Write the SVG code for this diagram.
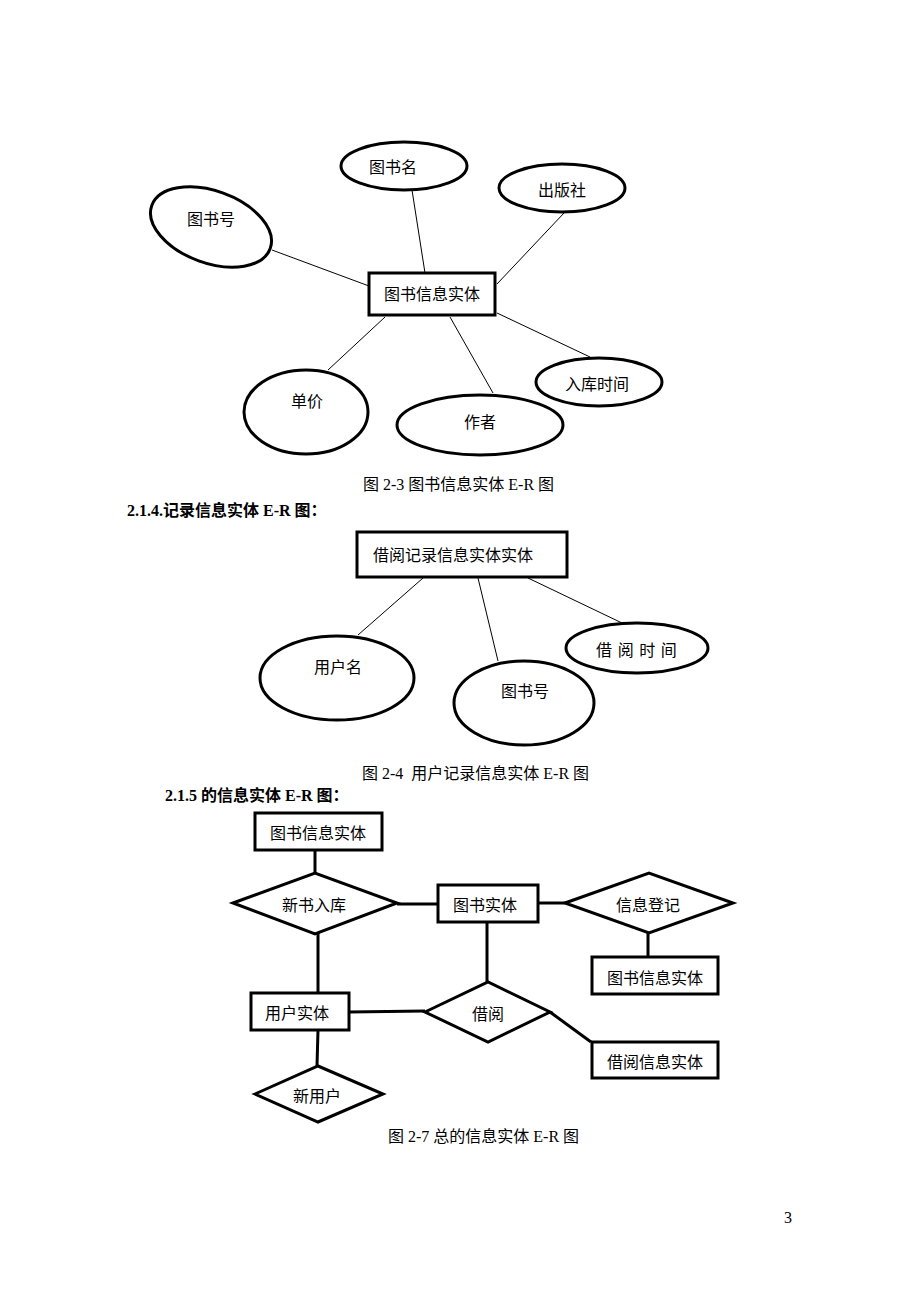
<svg xmlns="http://www.w3.org/2000/svg" width="920" height="1302" viewBox="0 0 920 1302">
<style>
.bg{fill:#fff}
.ell{fill:#fff;stroke:#000;stroke-width:3}
.box{fill:#fff;stroke:#000;stroke-width:3}
.thin{stroke:#000;stroke-width:1;fill:none}
.thick{stroke:#000;stroke-width:3;fill:none}
.lbl{font-family:"Noto Sans CJK SC","Liberation Sans",sans-serif;font-size:16px;fill:#000;text-anchor:middle;dominant-baseline:central}
.cap{font-family:"Liberation Serif","Noto Sans CJK SC",serif;font-size:16px;fill:#000;white-space:pre}
.head{font-family:"Liberation Serif","Noto Sans CJK SC",serif;font-size:16px;font-weight:bold;fill:#000}
</style>
<rect class="bg" x="0" y="0" width="920" height="1302"/>

<!-- Figure 2-3 -->
<g id="connectors-top">
<line class="thin" x1="272" y1="250" x2="369" y2="286"/>
<line class="thin" x1="412" y1="190" x2="425" y2="273"/>
<line class="thin" x1="564" y1="213" x2="497" y2="284"/>
<line class="thin" x1="385" y1="317" x2="328" y2="370"/>
<line class="thin" x1="450" y1="317" x2="493" y2="393"/>
<line class="thin" x1="497" y1="313" x2="590" y2="357"/>
</g>
<g id="n-tsh"><ellipse class="ell" cx="211" cy="227" rx="63" ry="36" transform="rotate(20 211 227)"/><text class="lbl" x="211" y="218">图书号</text></g>
<g id="n-tsm"><ellipse class="ell" cx="404" cy="166" rx="63" ry="24"/><text class="lbl" x="393" y="166">图书名</text></g>
<g id="n-cbs"><ellipse class="ell" cx="562" cy="188" rx="63" ry="24"/><text class="lbl" x="562" y="189">出版社</text></g>
<g id="n-tsxx"><rect class="box" x="369" y="273" width="126" height="42"/><text class="lbl" x="432" y="293">图书信息实体</text></g>
<g id="n-dj"><ellipse class="ell" cx="306" cy="412" rx="62" ry="42"/><text class="lbl" x="307" y="400">单价</text></g>
<g id="n-zz"><ellipse class="ell" cx="480" cy="425" rx="83" ry="30"/><text class="lbl" x="480" y="421">作者</text></g>
<g id="n-rksj"><ellipse class="ell" cx="599" cy="382" rx="63" ry="24"/><text class="lbl" x="597" y="383">入库时间</text></g>
<text class="cap" x="363" y="490">图 2-3 图书信息实体 E-R 图</text>
<text class="head" x="127" y="516">2.1.4.记录信息实体 E-R 图：</text>

<!-- Figure 2-4 -->
<g id="connectors-mid">
<line class="thin" x1="423" y1="578" x2="358" y2="635"/>
<line class="thin" x1="478" y1="578" x2="498" y2="661"/>
<line class="thin" x1="528" y1="578" x2="622" y2="623"/>
</g>
<g id="n-jyjl"><rect class="box" x="357" y="532" width="210" height="45"/><text class="lbl" x="453" y="554">借阅记录信息实体实体</text></g>
<g id="n-yhm"><ellipse class="ell" cx="337" cy="678" rx="77" ry="42"/><text class="lbl" x="338" y="666">用户名</text></g>
<g id="n-tsh2"><ellipse class="ell" cx="524" cy="703" rx="70" ry="42"/><text class="lbl" x="525" y="690">图书号</text></g>
<g id="n-jysj"><ellipse class="ell" cx="637" cy="648" rx="71" ry="25"/><text class="lbl" x="637" y="649" letter-spacing="1">借 阅 时 间</text></g>
<text class="cap" x="362" y="779">图 2-4  用户记录信息实体 E-R 图</text>
<text class="head" x="165" y="801">2.1.5 的信息实体 E-R 图：</text>

<!-- Figure 2-7 -->
<g id="connectors-bottom">
<line class="thick" x1="315" y1="850" x2="315" y2="873"/>
<line class="thick" x1="397" y1="904" x2="438" y2="904"/>
<line class="thick" x1="538" y1="903" x2="565" y2="903"/>
<line class="thick" x1="648" y1="933" x2="648" y2="957"/>
<line class="thick" x1="318" y1="933" x2="318" y2="993"/>
<line class="thick" x1="487" y1="922" x2="487" y2="982"/>
<line class="thick" x1="349" y1="1012" x2="425" y2="1011"/>
<line class="thick" x1="550" y1="1012" x2="591" y2="1042"/>
<line class="thick" x1="318" y1="1030" x2="317" y2="1066"/>
</g>
<g id="b-tsxx1"><rect class="box" x="255" y="813" width="127" height="37"/><text class="lbl" x="318" y="832">图书信息实体</text></g>
<g id="b-xsrk"><polygon class="box" points="233,903 315,873 397,903 315,934"/><text class="lbl" x="314" y="904">新书入库</text></g>
<g id="b-tssj"><rect class="box" x="438" y="885" width="100" height="37"/><text class="lbl" x="485" y="904">图书实体</text></g>
<g id="b-xxdj"><polygon class="box" points="565,903 649,873 733,903 649,933"/><text class="lbl" x="648" y="904">信息登记</text></g>
<g id="b-tsxx2"><rect class="box" x="592" y="957" width="126" height="37"/><text class="lbl" x="655" y="977">图书信息实体</text></g>
<g id="b-yhsj"><rect class="box" x="251" y="993" width="98" height="37"/><text class="lbl" x="297" y="1012">用户实体</text></g>
<g id="b-jy"><polygon class="box" points="425,1012 488,982 550,1012 488,1042"/><text class="lbl" x="488" y="1013">借阅</text></g>
<g id="b-jyxx"><rect class="box" x="592" y="1042" width="126" height="36"/><text class="lbl" x="655" y="1061">借阅信息实体</text></g>
<g id="b-xyh"><polygon class="box" points="255,1094 318,1066 383,1094 318,1122"/><text class="lbl" x="317" y="1095">新用户</text></g>
<text class="cap" x="388" y="1142">图 2-7 总的信息实体 E-R 图</text>
<text class="cap" x="784" y="1223" font-size="13">3</text>
</svg>
